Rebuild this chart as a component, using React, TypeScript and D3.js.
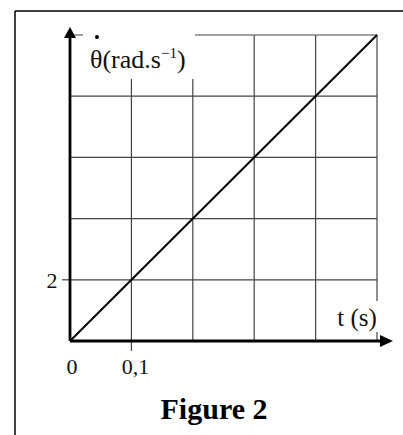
import React from "react";
import * as d3 from "d3";

const W = 403;
const H = 435;

const xTicksGrid = [0.1, 0.2, 0.3, 0.4, 0.5];
const yTicksGrid = [2, 4, 6, 8, 10];
const lineT = [0, 0.5];
const lineOmega = [0, 10];
const xLabels = [{ v: 0, t: "0" }, { v: 0.1, t: "0,1" }];
const yLabels = [{ v: 2, t: "2" }];

export default function App() {
  const x = d3.scaleLinear().domain([0, 0.5]).range([70, 377]);
  const y = d3.scaleLinear().domain([0, 10]).range([341, 35]);
  const pts = lineT.map((t, i) => [t, lineOmega[i]] as [number, number]);
  const line = d3
    .line<[number, number]>()
    .x((d) => x(d[0]))
    .y((d) => y(d[1]));
  const font = "'Liberation Serif', 'Times New Roman', serif";
  const x0 = x(0);
  const y0 = y(0);
  return (
    <svg
      width={W}
      height={H}
      style={{ position: "absolute", left: 0, top: 0, background: "#fff" }}
    >
      {/* frame */}
      <line x1={15} y1={11} x2={W} y2={11} stroke="#000" strokeWidth={1.5} />
      <line x1={15} y1={11} x2={15} y2={H} stroke="#000" strokeWidth={1.5} />
      {/* grid */}
      {xTicksGrid.map((v) => (
        <line key={"gx" + v} x1={x(v)} x2={x(v)} y1={y(10)} y2={y0} stroke="#444" strokeWidth={1.2} />
      ))}
      {yTicksGrid.map((v) => (
        <line key={"gy" + v} x1={x0} x2={x(0.5)} y1={y(v)} y2={y(v)} stroke="#444" strokeWidth={1.2} />
      ))}
      {/* ticks */}
      <line x1={62} x2={x0} y1={y(2)} y2={y(2)} stroke="#444" strokeWidth={1.2} />
      <line x1={x(0.1)} x2={x(0.1)} y1={y0} y2={y0 + 10} stroke="#444" strokeWidth={1.2} />
      {/* label boxes */}
      <rect x={83} y={24} width={112} height={55} fill="#fff" />
      <rect x={335} y={301} width={48} height={31} fill="#fff" />
      {/* data line */}
      <path d={line(pts) || ""} stroke="#000" strokeWidth={2} fill="none" />
      {/* axes */}
      <line x1={x0} x2={382} y1={y0} y2={y0} stroke="#000" strokeWidth={2.8} />
      <path d={`M${393},${y0} L${380},${y0 - 6} L${380},${y0 + 6} Z`} fill="#000" />
      <line x1={x0} x2={x0} y1={y0} y2={36} stroke="#000" strokeWidth={2.8} />
      <path d={`M${x0},${27} L${x0 - 6},${38} L${x0 + 6},${38} Z`} fill="#000" />
      {/* tick labels */}
      {xLabels.map((d) => (
        <text key={d.t} x={x(d.v) + (d.v === 0 ? 2 : 4)} y={374} textAnchor="middle" fontFamily={font} fontSize={22} fill="#111">
          {d.t}
        </text>
      ))}
      {yLabels.map((d) => (
        <text key={d.t} x={52} y={y(d.v) + 8} textAnchor="middle" fontFamily={font} fontSize={22} fill="#111">
          {d.t}
        </text>
      ))}
      {/* axis titles */}
      <text x={357} y={326} textAnchor="middle" fontFamily={font} fontSize={25} fill="#111">
        t (s)
      </text>
      <circle cx={97} cy={37} r={2} fill="#000" />
      <text x={90} y={68} fontFamily={font} fontSize={26} fill="#111">
        θ(rad.s
        <tspan dy={-10} fontSize={15}>−1</tspan>
        <tspan dy={10}>)</tspan>
      </text>
      {/* caption */}
      <text x={214} y={419} textAnchor="middle" fontFamily={font} fontSize={30} fontWeight="bold" fill="#000">
        Figure 2
      </text>
    </svg>
  );
}
